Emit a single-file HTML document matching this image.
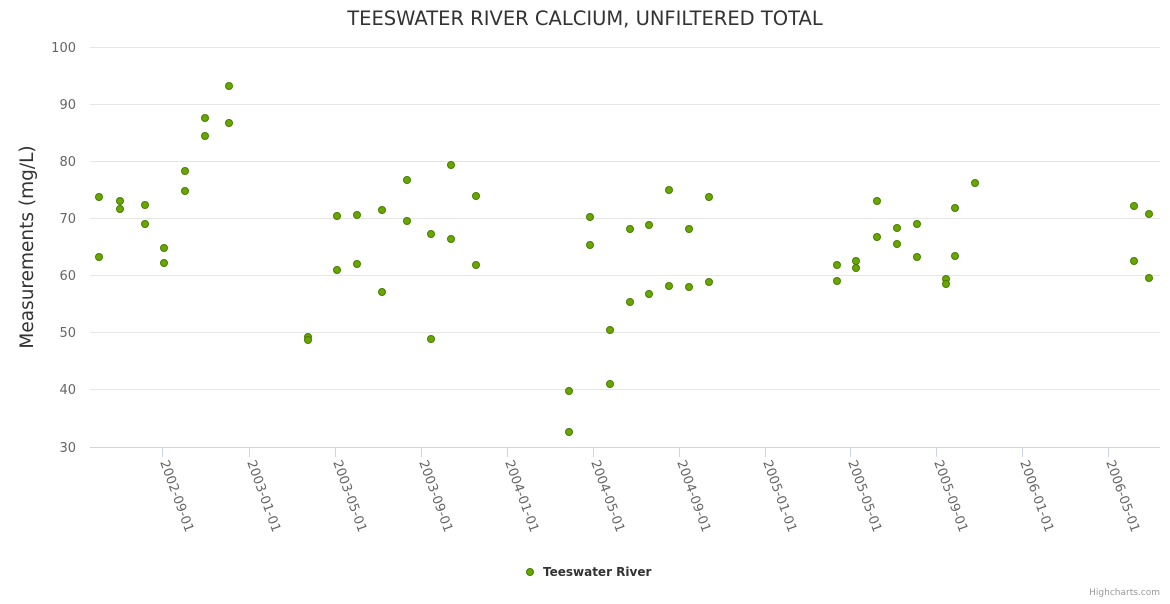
<!DOCTYPE html>
<html><head><meta charset="utf-8"><style>
body{margin:0;background:#fff;font-family:"DejaVu Sans",sans-serif;}
</style></head><body>
<svg width="1170" height="600" xmlns="http://www.w3.org/2000/svg" font-family="DejaVu Sans, sans-serif">
<rect width="1170" height="600" fill="#fff"/>
<text x="585" y="25" text-anchor="middle" font-size="19.5" fill="#333">TEESWATER RIVER CALCIUM, UNFILTERED TOTAL</text>
<g stroke="#e6e6e6" stroke-width="1">
<line x1="90" x2="1160" y1="47.5" y2="47.5"/><line x1="90" x2="1160" y1="104.5" y2="104.5"/>
<line x1="90" x2="1160" y1="161.5" y2="161.5"/><line x1="90" x2="1160" y1="218.5" y2="218.5"/>
<line x1="90" x2="1160" y1="275.5" y2="275.5"/><line x1="90" x2="1160" y1="332.5" y2="332.5"/>
<line x1="90" x2="1160" y1="389.5" y2="389.5"/>
</g>
<line x1="90" x2="1160" y1="447.5" y2="447.5" stroke="#ccd6eb"/>
<g font-size="13" fill="#666" text-anchor="end">
<text x="76" y="52">100</text><text x="76" y="109">90</text><text x="76" y="166">80</text><text x="76" y="223">70</text><text x="76" y="280">60</text><text x="76" y="337">50</text><text x="76" y="394">40</text><text x="76" y="452">30</text>
</g>
<text transform="translate(33,247) rotate(-90)" text-anchor="middle" font-size="18.5" fill="#333">Measurements (mg/L)</text>
<g stroke="#ccd6eb">
<line x1="162.5" x2="162.5" y1="447" y2="457"/><line x1="249.5" x2="249.5" y1="447" y2="457"/><line x1="335.5" x2="335.5" y1="447" y2="457"/><line x1="421.5" x2="421.5" y1="447" y2="457"/><line x1="507.5" x2="507.5" y1="447" y2="457"/><line x1="593.5" x2="593.5" y1="447" y2="457"/><line x1="679.5" x2="679.5" y1="447" y2="457"/><line x1="765.5" x2="765.5" y1="447" y2="457"/><line x1="850.5" x2="850.5" y1="447" y2="457"/><line x1="936.5" x2="936.5" y1="447" y2="457"/><line x1="1022.5" x2="1022.5" y1="447" y2="457"/><line x1="1108.5" x2="1108.5" y1="447" y2="457"/>
</g>
<g font-size="13" fill="#666">
<text transform="translate(160,462) rotate(70)">2002-09-01</text>
<text transform="translate(247,462) rotate(70)">2003-01-01</text>
<text transform="translate(333,462) rotate(70)">2003-05-01</text>
<text transform="translate(419,462) rotate(70)">2003-09-01</text>
<text transform="translate(505,462) rotate(70)">2004-01-01</text>
<text transform="translate(591,462) rotate(70)">2004-05-01</text>
<text transform="translate(677,462) rotate(70)">2004-09-01</text>
<text transform="translate(763,462) rotate(70)">2005-01-01</text>
<text transform="translate(848,462) rotate(70)">2005-05-01</text>
<text transform="translate(934,462) rotate(70)">2005-09-01</text>
<text transform="translate(1020,462) rotate(70)">2006-01-01</text>
<text transform="translate(1106,462) rotate(70)">2006-05-01</text>
</g>
<g fill="#66a800" stroke="#4a7a00" stroke-width="1">
<circle cx="99" cy="197" r="3.5"/><circle cx="99" cy="257" r="3.5"/><circle cx="120" cy="201" r="3.5"/><circle cx="120" cy="209" r="3.5"/><circle cx="145" cy="205" r="3.5"/><circle cx="145" cy="224" r="3.5"/><circle cx="164" cy="248" r="3.5"/><circle cx="164" cy="263" r="3.5"/><circle cx="185" cy="171" r="3.5"/><circle cx="185" cy="191" r="3.5"/><circle cx="205" cy="118" r="3.5"/><circle cx="205" cy="136" r="3.5"/><circle cx="229" cy="86" r="3.5"/><circle cx="229" cy="123" r="3.5"/><circle cx="308" cy="337" r="3.5"/><circle cx="308" cy="340" r="3.5"/><circle cx="337" cy="216" r="3.5"/><circle cx="337" cy="270" r="3.5"/><circle cx="357" cy="215" r="3.5"/><circle cx="357" cy="264" r="3.5"/><circle cx="382" cy="210" r="3.5"/><circle cx="382" cy="292" r="3.5"/><circle cx="407" cy="180" r="3.5"/><circle cx="407" cy="221" r="3.5"/><circle cx="431" cy="234" r="3.5"/><circle cx="431" cy="339" r="3.5"/><circle cx="451" cy="165" r="3.5"/><circle cx="451" cy="239" r="3.5"/><circle cx="476" cy="196" r="3.5"/><circle cx="476" cy="265" r="3.5"/><circle cx="569" cy="391" r="3.5"/><circle cx="569" cy="432" r="3.5"/><circle cx="590" cy="217" r="3.5"/><circle cx="590" cy="245" r="3.5"/><circle cx="610" cy="330" r="3.5"/><circle cx="610" cy="384" r="3.5"/><circle cx="630" cy="229" r="3.5"/><circle cx="630" cy="302" r="3.5"/><circle cx="649" cy="225" r="3.5"/><circle cx="649" cy="294" r="3.5"/><circle cx="669" cy="190" r="3.5"/><circle cx="669" cy="286" r="3.5"/><circle cx="689" cy="229" r="3.5"/><circle cx="689" cy="287" r="3.5"/><circle cx="709" cy="197" r="3.5"/><circle cx="709" cy="282" r="3.5"/><circle cx="837" cy="265" r="3.5"/><circle cx="837" cy="281" r="3.5"/><circle cx="856" cy="261" r="3.5"/><circle cx="856" cy="268" r="3.5"/><circle cx="877" cy="201" r="3.5"/><circle cx="877" cy="237" r="3.5"/><circle cx="897" cy="228" r="3.5"/><circle cx="897" cy="244" r="3.5"/><circle cx="917" cy="224" r="3.5"/><circle cx="917" cy="257" r="3.5"/><circle cx="946" cy="279" r="3.5"/><circle cx="946" cy="284" r="3.5"/><circle cx="955" cy="208" r="3.5"/><circle cx="955" cy="256" r="3.5"/><circle cx="975" cy="183" r="3.5"/><circle cx="1134" cy="206" r="3.5"/><circle cx="1134" cy="261" r="3.5"/><circle cx="1149" cy="214" r="3.5"/><circle cx="1149" cy="278" r="3.5"/>
<circle cx="530" cy="572" r="3.5"/>
</g>
<text x="543" y="576" font-size="12" font-weight="bold" fill="#333">Teeswater River</text>
<text x="1160" y="595" text-anchor="end" font-size="9" fill="#999">Highcharts.com</text>
</svg>
</body></html>
